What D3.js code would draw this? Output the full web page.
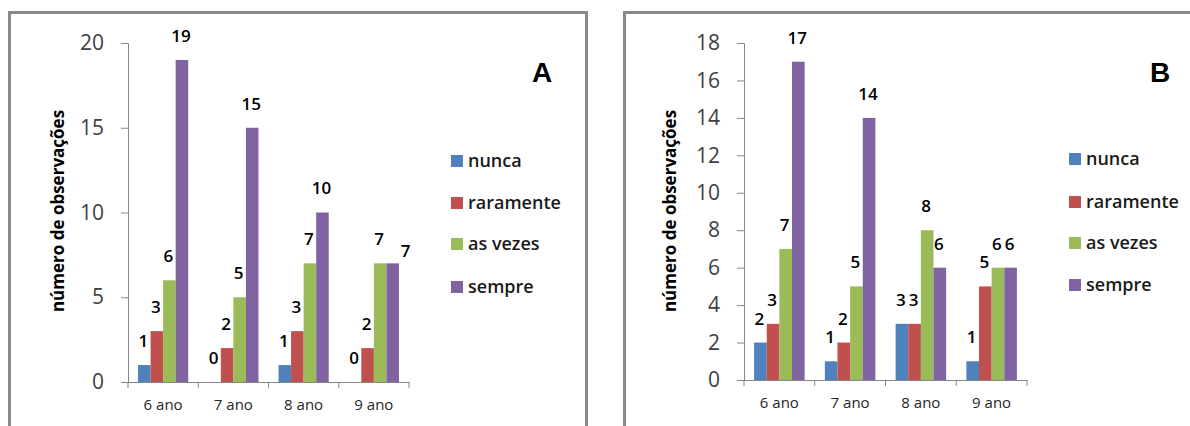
<!DOCTYPE html>
<html>
<head>
<meta charset="utf-8" />
<script src="https://d3js.org/d3.v7.min.js"></script>
<style>
  body { margin: 0; background: #fff; }
  svg { display: block; }
</style>
</head>
<body>
<div id="chart"></div>
<script>
// categories and series
var categories = ["6 ano", "7 ano", "8 ano", "9 ano"];
var seriesNames = ["nunca", "raramente", "as vezes", "sempre"];
var seriesColors = ["#4f81bd", "#c0504d", "#9bbb59", "#8064a2"];

// panel A values
var nuncaA = [1, 0, 1, 0];
var raramenteA = [3, 2, 3, 2];
var asVezesA = [6, 5, 7, 7];
var sempreA = [19, 15, 10, 7];
var ticksA = [0, 5, 10, 15, 20];

// panel B values
var nuncaB = [2, 1, 3, 1];
var raramenteB = [3, 2, 3, 5];
var asVezesB = [7, 5, 8, 6];
var sempreB = [17, 14, 6, 6];
var ticksB = [0, 2, 4, 6, 8, 10, 12, 14, 16, 18];

var svg = d3.select("#chart").append("svg")
  .attr("width", 1190)
  .attr("height", 426);

var font = "'Open Sans', sans-serif";

function drawPanel(opt) {
  var g = svg.append("g");

  // frame
  g.append("rect")
    .attr("x", opt.frame[0]).attr("y", 12.5)
    .attr("width", opt.frame[1] - opt.frame[0]).attr("height", 500)
    .attr("fill", "none").attr("stroke", "#8a8a8a").attr("stroke-width", 3);

  var x = d3.scaleBand().domain(categories).range(opt.xRange).padding(0);
  var xs = d3.scaleBand().domain(seriesNames).range([0, x.bandwidth()])
    .paddingInner(0).paddingOuter(0.8);
  var y = d3.scaleLinear().domain([0, opt.max]).range(opt.yRange);

  // y axis
  var ya = g.append("g")
    .attr("transform", "translate(" + opt.xRange[0] + ",0)")
    .call(d3.axisLeft(y).tickValues(opt.ticks).tickSize(7).tickPadding(17));
  ya.select(".domain").attr("stroke", "#868686");
  ya.selectAll(".tick line").attr("stroke", "#868686");
  ya.selectAll("text").attr("font-family", font).attr("font-size", 21)
    .attr("fill", "#404040");

  // x axis
  var xa = g.append("g")
    .attr("transform", "translate(0," + opt.yRange[0] + ")")
    .call(d3.axisBottom(x).tickSize(0).tickPadding(17));
  xa.select(".domain").attr("stroke", "#868686");
  xa.selectAll("text").attr("font-family", font).attr("font-size", 15)
    .attr("fill", "#262626");
  // tick marks at category boundaries
  var bounds = categories.map(function(c) { return x(c); }).concat([opt.xRange[1]]);
  xa.selectAll(".bound").data(bounds).enter().append("line")
    .attr("x1", function(d) { return d; }).attr("x2", function(d) { return d; })
    .attr("y1", 0).attr("y2", 6)
    .attr("stroke", "#868686");

  // bars
  var rows = [];
  opt.series.forEach(function(vals, si) {
    vals.forEach(function(v, ci) {
      rows.push({ cat: categories[ci], ci: ci, s: seriesNames[si], si: si, v: v });
    });
  });
  g.selectAll(".bar").data(rows).enter().append("rect")
    .attr("x", function(d) { return x(d.cat) + xs(d.s); })
    .attr("y", function(d) { return y(d.v); })
    .attr("width", xs.bandwidth())
    .attr("height", function(d) { return y(0) - y(d.v); })
    .attr("fill", function(d) { return seriesColors[d.si]; });

  // value labels (one label was moved by hand in the original)
  function nudge(d) {
    var n = (opt.nudge || []).filter(function(m) { return m.si === d.si && m.ci === d.ci; })[0];
    return n || { dx: 0, dy: 0 };
  }
  g.selectAll(".lbl").data(rows).enter().append("text")
    .attr("x", function(d) { return x(d.cat) + xs(d.s) + xs.bandwidth() / 2 - 1 + nudge(d).dx; })
    .attr("y", function(d) { return y(d.v) - 24 + nudge(d).dy; })
    .attr("dy", "0.35em")
    .attr("text-anchor", "middle")
    .attr("font-family", font).attr("font-size", 17).attr("font-weight", 600)
    .attr("fill", "#000")
    .text(function(d) { return d.v; });

  // y title
  g.append("text")
    .attr("transform", "translate(" + opt.titleX + ",211) rotate(-90)")
    .attr("text-anchor", "middle").attr("dy", "0.35em")
    .attr("font-family", font).attr("font-size", 17).attr("font-weight", 700)
    .attr("fill", "#000")
    .text("número de observações");

  // panel letter
  g.append("text")
    .attr("x", opt.letterX).attr("y", 72).attr("dy", "0.35em")
    .attr("text-anchor", "middle")
    .attr("font-family", "'Liberation Sans', Arial, sans-serif")
    .attr("font-size", 28).attr("font-weight", 700)
    .text(opt.letter);

  // legend
  var leg = g.selectAll(".leg").data(seriesNames).enter().append("g")
    .attr("transform", function(d, i) {
      return "translate(" + opt.legendX + "," + opt.legendY[i] + ")";
    });
  leg.append("rect")
    .attr("x", 0).attr("y", -6).attr("width", 12).attr("height", 12)
    .attr("fill", function(d, i) { return seriesColors[i]; });
  leg.append("text")
    .attr("x", 17).attr("dy", "0.32em")
    .attr("font-family", font).attr("font-size", 18).attr("font-weight", 600)
    .attr("fill", "#1a1a1a")
    .text(function(d) { return d; });
}

drawPanel({
  frame: [9.5, 586.5],
  xRange: [128, 409],
  yRange: [382, 43],
  max: 20,
  ticks: ticksA,
  series: [nuncaA, raramenteA, asVezesA, sempreA],
  nudge: [{ si: 3, ci: 3, dx: 14, dy: 12 }],
  titleX: 58,
  letter: "A",
  letterX: 542,
  legendX: 451,
  legendY: [161, 203, 244, 287]
});

drawPanel({
  frame: [624.5, 1300],
  xRange: [744, 1027],
  yRange: [380, 43],
  max: 18,
  ticks: ticksB,
  series: [nuncaB, raramenteB, asVezesB, sempreB],
  titleX: 670,
  letter: "B",
  letterX: 1160,
  legendX: 1069,
  legendY: [159, 202, 243, 285]
});
</script>
</body>
</html>
